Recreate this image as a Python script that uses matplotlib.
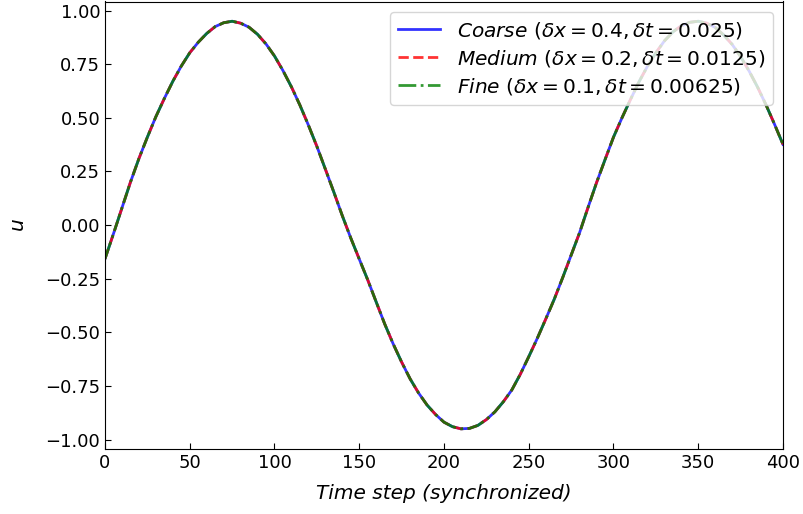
import matplotlib
matplotlib.use("Agg")
import matplotlib.pyplot as plt

steps = [0, 5, 10, 15, 20, 25, 30, 35, 40, 45, 50, 55, 60, 65, 70, 75, 80, 85, 90, 95,
         100, 105, 110, 115, 120, 125, 130, 135, 140, 145, 150, 155, 160, 165, 170, 175,
         180, 185, 190, 195, 200, 205, 210, 215, 220, 225, 230, 235, 240, 245, 250, 255,
         260, 265, 270, 275, 280, 285, 290, 295, 300, 305, 310, 315, 320, 325, 330, 335,
         340, 345, 350, 355, 360, 365, 370, 375, 380, 385, 390, 395, 400]

coarse = [-0.157, -0.040, 0.080, 0.200, 0.310, 0.410, 0.505, 0.590, 0.670, 0.741,
          0.803, 0.852, 0.893, 0.925, 0.943, 0.950, 0.941, 0.922, 0.889, 0.844,
          0.788, 0.720, 0.644, 0.559, 0.466, 0.367, 0.261, 0.154, 0.044, -0.060,
          -0.158, -0.255, -0.358, -0.460, -0.553, -0.638, -0.716, -0.782, -0.838, -0.882,
          -0.918, -0.939, -0.949, -0.947, -0.933, -0.906, -0.870, -0.823, -0.768, -0.695,
          -0.613, -0.528, -0.438, -0.346, -0.245, -0.140, -0.035, 0.083, 0.198, 0.305,
          0.410, 0.500, 0.585, 0.667, 0.740, 0.803, 0.858, 0.900, 0.929, 0.945,
          0.950, 0.941, 0.921, 0.886, 0.842, 0.785, 0.718, 0.643, 0.560, 0.470, 0.376]
medium = [-0.157, -0.040, 0.080, 0.200, 0.310, 0.410, 0.505, 0.590, 0.670, 0.741,
          0.803, 0.852, 0.893, 0.925, 0.943, 0.950, 0.941, 0.922, 0.889, 0.844,
          0.788, 0.720, 0.644, 0.559, 0.466, 0.367, 0.261, 0.154, 0.044, -0.060,
          -0.158, -0.255, -0.358, -0.460, -0.553, -0.638, -0.716, -0.782, -0.838, -0.882,
          -0.918, -0.939, -0.949, -0.947, -0.933, -0.906, -0.870, -0.823, -0.768, -0.695,
          -0.613, -0.528, -0.438, -0.346, -0.245, -0.140, -0.035, 0.083, 0.198, 0.305,
          0.410, 0.500, 0.585, 0.667, 0.740, 0.803, 0.858, 0.900, 0.929, 0.945,
          0.950, 0.941, 0.921, 0.886, 0.842, 0.785, 0.718, 0.643, 0.560, 0.470, 0.376]
fine = [-0.157, -0.040, 0.080, 0.200, 0.310, 0.410, 0.505, 0.590, 0.670, 0.741,
        0.803, 0.852, 0.893, 0.925, 0.943, 0.950, 0.941, 0.922, 0.889, 0.844,
        0.788, 0.720, 0.644, 0.559, 0.466, 0.367, 0.261, 0.154, 0.044, -0.060,
        -0.158, -0.255, -0.358, -0.460, -0.553, -0.638, -0.716, -0.782, -0.838, -0.882,
        -0.918, -0.939, -0.949, -0.947, -0.933, -0.906, -0.870, -0.823, -0.768, -0.695,
        -0.613, -0.528, -0.438, -0.346, -0.245, -0.140, -0.035, 0.083, 0.198, 0.305,
        0.410, 0.500, 0.585, 0.667, 0.740, 0.803, 0.858, 0.900, 0.929, 0.945,
        0.950, 0.941, 0.921, 0.886, 0.842, 0.785, 0.718, 0.643, 0.560, 0.470, 0.376]

labels = [r"$\it{Coarse}$ $(\delta x = 0.4, \delta t = 0.025)$",
          r"$\it{Medium}$ $(\delta x = 0.2, \delta t = 0.0125)$",
          r"$\it{Fine}$ $(\delta x = 0.1, \delta t = 0.00625)$"]

fig = plt.figure(figsize=(8.04, 5.14), dpi=100)
ax = fig.add_axes([105/804, 1 - 449/514, 678/804, 447.5/514])

ax.plot(steps, coarse, color="b", linestyle="-", lw=2, alpha=0.8, label=labels[0])
ax.plot(steps, medium, color="r", linestyle="--", lw=2, alpha=0.8, label=labels[1])
ax.plot(steps, fine, color="g", linestyle="-.", lw=2, alpha=0.8, label=labels[2])

ax.set_xlim(0, 400)
ax.set_ylim(-1.043, 1.042)
ax.set_xticks([0, 50, 100, 150, 200, 250, 300, 350, 400])
ax.set_yticks([-1.0, -0.75, -0.5, -0.25, 0.0, 0.25, 0.5, 0.75, 1.0])
ax.tick_params(direction="in", labelsize=13, length=4.5)
ax.set_xlabel("Time step (synchronized)", fontsize=14.5, style="italic", labelpad=9)
ax.set_ylabel("$u$", fontsize=14.5, labelpad=12)
ax.legend(loc="upper right", fontsize=14.5, labelspacing=0.35, handlelength=2.1)

fig.savefig("out.png", dpi=100)
